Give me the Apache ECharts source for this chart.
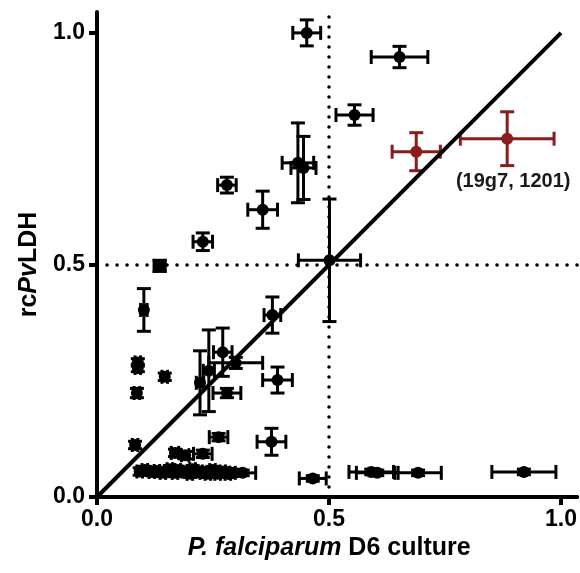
<!DOCTYPE html>
<html>
<head>
<meta charset="utf-8">
<script src="https://cdn.jsdelivr.net/npm/echarts@6/dist/echarts.min.js"></script>
<style>html,body{margin:0;padding:0;background:#fff}#c{width:580px;height:573px}</style>
</head>
<body>
<div id="c"></div>
<script>
// ---- data ----
const tickValues = [0, 0.5, 1.0];
// black points: x, y, x error, y error
const blackX = [0.452, 0.652, 0.555, 0.433, 0.445, 0.280, 0.228, 0.357, 0.135, 0.101, 0.501, 0.378,
  0.271, 0.299, 0.241, 0.222, 0.280, 0.389, 0.088, 0.088, 0.146, 0.086, 0.082, 0.262, 0.376, 0.228, 0.168, 0.190,
  0.092, 0.103, 0.118, 0.129, 0.142, 0.157, 0.168, 0.174, 0.189, 0.200, 0.206, 0.221, 0.228, 0.239, 0.249, 0.260, 0.271, 0.282, 0.292, 0.314,
  0.465, 0.591, 0.604, 0.692, 0.920];
const blackY = [1.000, 0.948, 0.823, 0.720, 0.709, 0.672, 0.550, 0.619, 0.498, 0.403, 0.510, 0.392,
  0.312, 0.289, 0.272, 0.246, 0.224, 0.252, 0.290, 0.278, 0.259, 0.224, 0.112, 0.129, 0.119, 0.093, 0.095, 0.090,
  0.055, 0.058, 0.054, 0.056, 0.052, 0.060, 0.052, 0.058, 0.055, 0.050, 0.060, 0.055, 0.052, 0.050, 0.058, 0.050, 0.055, 0.050, 0.052, 0.052,
  0.040, 0.054, 0.052, 0.052, 0.054];
const blackXErr = [0.030, 0.061, 0.040, 0.034, 0.027, 0.020, 0.021, 0.032, 0.012, 0.007, 0.067, 0.018,
  0.020, 0.058, 0.012, 0.008, 0.030, 0.032, 0.006, 0.006, 0.006, 0.006, 0.006, 0.020, 0.031, 0.020, 0.008, 0.008,
  0.006, 0.006, 0.006, 0.006, 0.006, 0.006, 0.006, 0.006, 0.006, 0.006, 0.006, 0.006, 0.006, 0.006, 0.006, 0.006, 0.006, 0.006, 0.006, 0.028,
  0.029, 0.048, 0.045, 0.050, 0.069];
const blackYErr = [0.028, 0.023, 0.022, 0.086, 0.068, 0.017, 0.019, 0.040, 0.012, 0.046, 0.132, 0.039,
  0.052, 0.012, 0.088, 0.069, 0.010, 0.028, 0.008, 0.008, 0.008, 0.010, 0.008, 0.008, 0.029, 0.008, 0.008, 0.008,
  0.008, 0.008, 0.008, 0.008, 0.008, 0.008, 0.008, 0.008, 0.008, 0.008, 0.008, 0.008, 0.008, 0.008, 0.008, 0.008, 0.008, 0.008, 0.008, 0.006,
  0.006, 0.006, 0.006, 0.006, 0.006];
// highlighted (red) points
const redX = [0.688, 0.884];
const redY = [0.744, 0.772];
const redXErr = [0.052, 0.101];
const redYErr = [0.041, 0.058];
const redLabel = '(19g7, 1201)';

const BLACK = '#000000';
const RED = '#8B1C1C';
const FONT = 'Liberation Sans, Arial, sans-serif';

function rows(xs, ys, xe, ye) { return xs.map((x, i) => [x, ys[i], xe[i], ye[i]]); }
const blackData = rows(blackX, blackY, blackXErr, blackYErr);
const redData = rows(redX, redY, redXErr, redYErr);

function errorRenderer(color) {
  return function (params, api) {
    const x = api.value(0), y = api.value(1), ex = api.value(2), ey = api.value(3);
    const l = api.coord([x - ex, y]), r = api.coord([x + ex, y]);
    const t = api.coord([x, y + ey]), b = api.coord([x, y - ey]);
    const h = 7;
    const st = { stroke: color, lineWidth: 3, fill: null, opacity: 1 };
    const seg = (x1, y1, x2, y2) => ({ type: 'line', shape: { x1, y1, x2, y2 }, style: st });
    return {
      type: 'group',
      children: [
        seg(l[0], l[1], r[0], r[1]),
        seg(l[0], l[1] - h, l[0], l[1] + h),
        seg(r[0], r[1] - h, r[0], r[1] + h),
        seg(t[0], t[1], b[0], b[1]),
        seg(t[0] - h, t[1], t[0] + h, t[1]),
        seg(b[0] - h, b[1], b[0] + h, b[1])
      ]
    };
  };
}

const chart = echarts.init(document.getElementById('c'), null, { renderer: 'canvas' });
const dotted = { color: BLACK, width: 3.5, type: [0.1, 9.9], cap: 'round', opacity: 1 };
chart.setOption({
  animation: false,
  backgroundColor: '#ffffff',
  textStyle: { fontFamily: FONT },
  grid: { left: 97, right: 2, top: 12, bottom: 76 },
  xAxis: {
    type: 'value', min: 0, max: 1.035,
    splitLine: { show: false },
    axisLine: { lineStyle: { color: BLACK, width: 4 } },
    axisTick: { customValues: tickValues, length: 8, lineStyle: { color: BLACK, width: 4 } },
    axisLabel: { customValues: tickValues, formatter: v => v.toFixed(1), color: BLACK, fontSize: 23, fontWeight: 'bold', fontFamily: FONT, margin: 11 },
    name: '{i|P. falciparum} D6 culture',
    nameLocation: 'middle', nameGap: 39,
    nameTextStyle: {
      color: BLACK, fontSize: 25, fontWeight: 'bold', fontFamily: FONT, padding: [0, 16, 0, 0],
      rich: { i: { fontStyle: 'italic', fontWeight: 'bold', fontSize: 25, fontFamily: FONT, color: BLACK } }
    }
  },
  yAxis: {
    type: 'value', min: 0, max: 1.045,
    splitLine: { show: false },
    axisLine: { lineStyle: { color: BLACK, width: 4 } },
    axisTick: { customValues: tickValues, length: 8, lineStyle: { color: BLACK, width: 4 } },
    axisLabel: { customValues: tickValues, formatter: v => v.toFixed(1), color: BLACK, fontSize: 23, fontWeight: 'bold', fontFamily: FONT, margin: 12 },
    name: 'rc{i|Pv}LDH',
    nameLocation: 'middle', nameGap: 55,
    nameTextStyle: {
      color: BLACK, fontSize: 25, fontWeight: 'bold', fontFamily: FONT, padding: [0, 20, 0, 0],
      rich: { i: { fontStyle: 'italic', fontWeight: 'bold', fontSize: 25, fontFamily: FONT, color: BLACK } }
    }
  },
  series: [
    { type: 'line', data: [[0.5, 0], [0.5, 1.045]], symbol: 'none', lineStyle: dotted, silent: true, z: 1 },
    { type: 'line', data: [[0, 0.5], [1.035, 0.5]], symbol: 'none', lineStyle: dotted, silent: true, z: 1 },
    { type: 'custom', data: blackData, renderItem: errorRenderer(BLACK), z: 3, encode: { x: 0, y: 1 } },
    { type: 'scatter', data: blackData.map(d => [d[0], d[1]]), symbol: 'circle', symbolSize: 12, itemStyle: { color: BLACK, opacity: 1 }, z: 4 },
    { type: 'custom', data: redData, renderItem: errorRenderer(RED), z: 3, encode: { x: 0, y: 1 } },
    { type: 'scatter', symbol: 'circle', symbolSize: 12, itemStyle: { color: RED, opacity: 1 }, z: 4,
      data: redData.map((d, i) => ({
        value: [d[0], d[1]],
        label: i === 1 ? { show: true, formatter: redLabel, position: 'inside', offset: [6, 43], color: '#1a1a1a', opacity: 1, fontSize: 20, fontWeight: 'bold', fontFamily: FONT } : { show: false }
      })) },
    { type: 'line', data: [[0, 0], [1, 1]], symbol: 'none', lineStyle: { color: BLACK, width: 4, opacity: 1 }, z: 5, silent: true }
  ]
});
</script>
</body>
</html>
